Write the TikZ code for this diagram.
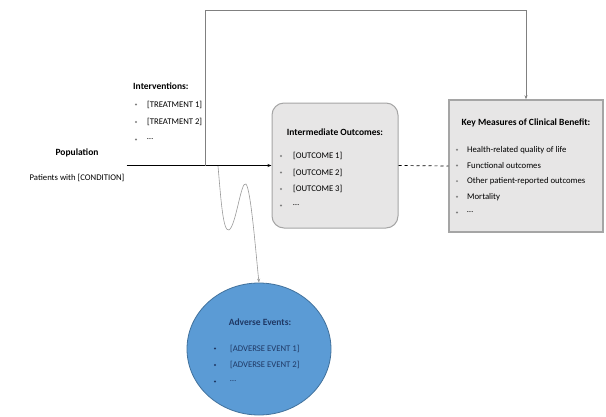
\documentclass[tikz,border=0pt]{standalone}
\usepackage{fontspec}
\setmainfont{Carlito}
\usetikzlibrary{arrows.meta,shapes.geometric}

\definecolor{boxgray}{HTML}{E7E6E6}
\definecolor{edgegray}{HTML}{A5A5A5}
\definecolor{aeblue}{HTML}{5B9BD5}
\definecolor{aeedge}{HTML}{41719C}
\definecolor{aetext}{HTML}{1F3864}

\tikzset{
    head/.style={font=\fontsize{9.5}{11}\selectfont\bfseries, inner sep=0pt},
    item/.style={font=\fontsize{8.7}{10}\selectfont, anchor=west, inner sep=0pt},
    link/.style={-{Stealth[length=4pt,width=3pt]}},
}

\begin{document}
\begin{tikzpicture}[x=1pt, y=-1pt]
    \useasboundingbox (0,0) rectangle (606,416);

    % Population
    \node[head] (pophead) at (77,153) {Population};
    \node[font=\fontsize{8.7}{10}\selectfont, inner sep=0pt] (pop) at (77,178) {Patients with [CONDITION]};

    % Interventions
    \node[head, anchor=west] (inthead) at (133,86) {Interventions:};
    \foreach \t [count=\i] in {{[TREATMENT 1]}, {[TREATMENT 2]}, {\ldots}} {
        \fill[gray] (136, 87+17.5*\i) circle (1.1pt);
        \node[item] at (147, 87+17.5*\i) {\t};
    }

    % Intermediate outcomes
    \node[draw=edgegray, fill=boxgray, rounded corners=12pt, line width=1pt,
          minimum width=126pt, minimum height=125pt] (mid) at (335,165.5) {};
    \node[head] at (335,132) {Intermediate Outcomes:};
    \foreach \t [count=\i] in {{[OUTCOME 1]}, {[OUTCOME 2]}, {[OUTCOME 3]}, {\ldots}} {
        \fill[gray] (281, 139.5+16.5*\i) circle (1.1pt);
        \node[item] at (293, 139.5+16.5*\i) {\t};
    }

    % Key measures of clinical benefit
    \node[draw=edgegray, fill=boxgray, line width=1.4pt,
          minimum width=154pt, minimum height=132pt] (key) at (526,166) {};
    \node[head] at (526,123) {Key Measures of Clinical Benefit:};
    \foreach \t [count=\i] in {Health-related quality of life, Functional outcomes,
                               Other patient-reported outcomes, Mortality, {\ldots}} {
        \fill[gray] (457, 134+15.7*\i) circle (1.1pt);
        \node[item] at (467, 134+15.7*\i) {\t};
    }

    % Adverse events
    \node[ellipse, draw=aeedge, fill=aeblue, line width=0.8pt,
          minimum width=144pt, minimum height=132pt] (ae) at (259,349) {};
    \node[head, text=aetext] at (260,322) {Adverse Events:};
    \foreach \t [count=\i] in {{[ADVERSE EVENT 1]}, {[ADVERSE EVENT 2]}, {\ldots}} {
        \fill[aetext] (215, 332+16.5*\i) circle (1.1pt);
        \node[item, text=aetext] at (230, 332+16.5*\i) {\t};
    }

    % Connectors
    \coordinate (split) at (205,166);
    \coordinate (wave) at (218,166);
    \draw[link, line width=0.9pt] ([xshift=2pt]pop.east |- mid.west) -- (mid.west);
    \draw[link, gray, line width=0.7pt] (split) -- ++(0,-156) -| (key.north);
    \draw[dashed, line width=0.7pt] (mid.east) -- (key.west);
    \draw[link, gray!80, line width=0.6pt] (wave)
        .. controls (221,200) and (223,232) .. (229,230)
        .. controls (236,226) and (241,180) .. (246,184)
        .. controls (251,190) and (256,255) .. (ae.north);
\end{tikzpicture}
\end{document}
